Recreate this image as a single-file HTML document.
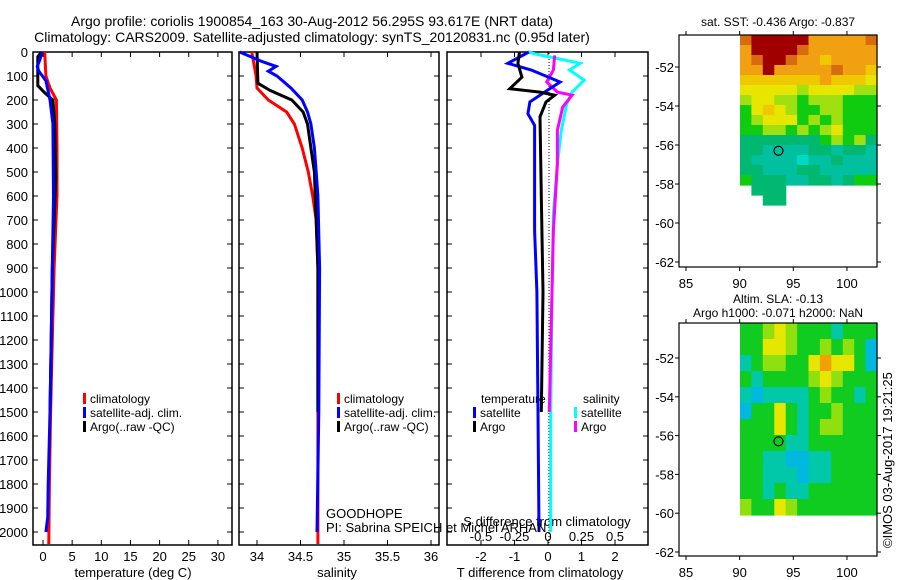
<!DOCTYPE html>
<html><head><meta charset="utf-8"><style>
body{margin:0;background:#fff}
svg{display:block;font-family:"Liberation Sans",sans-serif}
text{fill:#000}
</style></head><body>
<svg id="c" width="900" height="580" viewBox="0 0 900 580">
<text x="312" y="26" font-size="14" text-anchor="middle">Argo profile: coriolis 1900854_163 30-Aug-2012 56.295S 93.617E (NRT data)</text>
<text x="312" y="42" font-size="14" text-anchor="middle">Climatology: CARS2009. Satellite-adjusted climatology: synTS_20120831.nc (0.95d later)</text>
<g id="g"></g>
</svg>
<script>
// ---- data ----
const depthTicks=[0,100,200,300,400,500,600,700,800,900,1000,1100,1200,1300,1400,1500,1600,1700,1800,1900,2000];
const tTicks=[0,5,10,15,20,25,30];
const sTicks=[34,34.5,35,35.5,36];
const dTTicks=[-2,-1,0,1,2];
const dSTicks=[-0.5,-0.25,0,0.25,0.5];
const tClimD=[0,100,150,200,400,600,900,1200,1500,1800,2050];
const tClimV=[0.3,0.5,1.2,2.3,2.4,2.4,1.9,1.6,1.3,1.1,1.0];
const tSatD=[0,30,60,80,120,200,300,600,900,1200,1500,1800,1940,2000];
const tSatV=[-0.2,-0.5,-1.0,-0.7,0.5,1.2,1.7,1.8,1.6,1.4,1.2,0.9,0.8,0.5];
const tArgoD=[0,20,140,170,200,300,520,900,1200,1500];
const tArgoV=[-0.3,-0.9,-0.9,0.3,1.7,2.0,2.2,1.6,1.4,1.2];
const sClimD=[0,100,150,200,250,300,400,500,600,700,900,2050];
const sClimV=[33.94,33.99,34.0,34.13,34.34,34.43,34.52,34.59,34.64,34.68,34.70,34.70];
const sSatD=[0,40,60,80,100,150,200,250,300,400,500,600,900,1500,2000];
const sSatV=[33.8,34.06,34.22,34.13,34.23,34.39,34.52,34.58,34.62,34.66,34.68,34.70,34.72,34.71,34.69];
const sArgoD=[0,130,160,200,250,300,400,500,900,1500];
const sArgoV=[34.0,34.01,34.15,34.4,34.53,34.58,34.62,34.66,34.70,34.70];
const dTSatD=[0,47,75,125,167,208,257,306,743,1000,1500,2000];
const dTSatV=[-0.57,-1.2,-0.5,0.36,-0.1,-0.54,-0.6,-0.4,-0.4,-0.33,-0.3,-0.27];
const dTArgoD=[0,47,105,153,167,180,208,270,600,1000,1500];
const dTArgoV=[-0.85,-0.9,-0.78,-1.14,-0.24,0.2,-0.06,-0.24,-0.2,-0.15,-0.2];
const dSSatD=[0,10,47,75,117,167,215,326,465,673,1000,1500,2000];
const dSSatV=[-0.15,-0.08,0.24,0.16,0.27,0.18,0.14,0.1,0.07,0.04,0.03,0.02,0.02];
const dSArgoD=[14,75,125,167,180,229,326,465,743,1000,1500];
const dSArgoV=[0.05,0.04,-0.01,0.07,0.18,0.11,0.07,0.07,0.04,0.03,0.01];
const sstGrid=[
"899999777778","799998777777","789987767777","779777778776","666666676665","555554555544",
"455443444333","356543344333","345553434333","334434345333","222222234342","221111221221",
"211110112111","221112211111","322211221233","x222xxxxxxxx","xx22xxxxxxxx"];
const slaGrid=[
"334543332333","335543343431","234433565531","323333454333","212222343323","133532334333",
"333532344333","333322333333","332211223333","332221223333","332322333333","433543333333"];
const latTicks=[-52,-54,-56,-58,-60,-62];
const lonTicks=[85,90,95,100];
// ---- helpers ----
const NS='http://www.w3.org/2000/svg';
const G=document.getElementById('g');
function mk(tag,attrs,parent){const e=document.createElementNS(NS,tag);for(const k in attrs)e.setAttribute(k,attrs[k]);(parent||G).appendChild(e);return e;}
const yD=d=>52+d*0.24;
const P1={l:33,r:232,x:v=>43+v*5.83};
const P2={l:239,r:439,x:v=>257+(v-34)*87};
const P3={l:447,r:648,x:v=>548+v*33.5,xs:v=>548+v*134};
function frame(p,name){
 const r=mk('rect',{x:p.l,y:52,width:p.r-p.l,height:493,fill:'none',stroke:'#000','stroke-width':1.5});
 
 
}
function line(ds,vs,xf,color,name){
 const pts=ds.map((d,i)=>xf(vs[i]).toFixed(1)+','+yD(d).toFixed(1)).join(' ');
 const pl=mk('polyline',{points:pts,fill:'none',stroke:color,'stroke-width':3,'stroke-linejoin':'miter'});
 
 
}
function txt(x,y,s,size,anchor,name,extra){
 const t=mk('text',Object.assign({x:x,y:y,'font-size':size,'text-anchor':anchor||'start'},extra||{}));
 t.textContent=s;
 
 
 return t;
}
[P1,P2,P3].forEach((p,i)=>frame(p,'panel-frame-'+(i+1)));
depthTicks.forEach(d=>{
 const y=yD(d);
 [P1,P2,P3].forEach(p=>{mk('line',{x1:p.l,x2:p.l+5,y1:y,y2:y,stroke:'#000'});mk('line',{x1:p.r-5,x2:p.r,y1:y,y2:y,stroke:'#000'});});
 txt(28,y+5,String(d),13,'end','depth-tick-label');
});
function xticks(ticks,xf,top,bot,labY,name){
 ticks.forEach(v=>{const x=xf(v);
  mk('line',{x1:x,x2:x,y1:bot-5,y2:bot,stroke:'#000'});
  if(top)mk('line',{x1:x,x2:x,y1:52,y2:57,stroke:'#000'});
  txt(x,labY,String(v),13,'middle',name);});
}
xticks(tTicks,P1.x,true,545,561,'temperature-tick-label');
xticks(sTicks,P2.x,true,545,561,'salinity-tick-label');
xticks(dTTicks,P3.x,true,545,561,'t-diff-tick-label');
dSTicks.forEach(v=>txt(P3.xs(v),541,String(v),13,'middle','s-diff-tick-label'));
txt(133,577,'temperature (deg C)',13,'middle','x-axis-title-temperature');
txt(337,577,'salinity',13,'middle','x-axis-title-salinity');
txt(540,577,'T difference from climatology',13,'middle','x-axis-title-t-diff');
txt(547,526,'S difference from climatology',13,'middle','x-axis-title-s-diff');
const zl=mk('line',{x1:549,x2:549,y1:53,y2:544,stroke:'#000','stroke-dasharray':'1,2'});


line(tClimD,tClimV,P1.x,'#f00','temp-climatology');
line(tArgoD,tArgoV,P1.x,'#000','temp-argo');
line(tSatD,tSatV,P1.x,'#0000ff','temp-satellite-clim');
line(sClimD,sClimV,P2.x,'#f00','sal-climatology');
line(sArgoD,sArgoV,P2.x,'#000','sal-argo');
line(sSatD,sSatV,P2.x,'#0000ff','sal-satellite-clim');
line(dSSatD,dSSatV,P3.xs,'#00ffff','sdiff-satellite');
line(dSArgoD,dSArgoV,P3.xs,'#ff00ff','sdiff-argo');
line(dTSatD,dTSatV,P3.x,'#0000ff','tdiff-satellite');
line(dTArgoD,dTArgoV,P3.x,'#000','tdiff-argo');
function leg(x,y,c,s,name){mk('rect',{x:x,y:y-10,width:3,height:11,fill:c});txt(x+7,y,s,12,'start',name);}
leg(83,403,'#f00','climatology','legend-climatology');
leg(83,417,'#00f','satellite-adj. clim.','legend-satellite-clim');
leg(83,431,'#000','Argo(..raw -QC)','legend-argo');
leg(337,403,'#f00','climatology','legend2-climatology');
leg(337,417,'#00f','satellite-adj. clim.','legend2-satellite-clim');
leg(337,431,'#000','Argo(..raw -QC)','legend2-argo');
txt(481,403,'temperature',12,'start','legend-temperature-header');
leg(473,417,'#00f','satellite','legend-t-satellite');
leg(473,431,'#000','Argo','legend-t-argo');
txt(583,403,'salinity',12,'start','legend-salinity-header');
leg(574,417,'#0ff','satellite','legend-s-satellite');
leg(574,431,'#f0f','Argo','legend-s-argo');
txt(326,518,'GOODHOPE',13,'start','program-label');
txt(326,532,'PI: Sabrina SPEICH et Michel ARHAN',13,'start','pi-label');
const sstCol={'9':'#a00000','8':'#d86a10','7':'#f0a010','6':'#f0c800','5':'#e6e600','4':'#a0e010','3':'#10cc10','2':'#00b870','1':'#00c0a0','0':'#00d8c8'};
const slaCol={'1':'#00b8e0','2':'#00c8a8','3':'#10cc20','4':'#90e010','5':'#e6e600','6':'#f0a000'};
function map(top,bot,lat0,pxPerLat,grid,cols,rowH,title1,title2,name){
 const L=679,R=877,x=v=>686+(v-85)*10.73,y=v=>lat0+(v-(-52))*-pxPerLat;
 const cw=(R-740)/12;
 grid.forEach((row,ri)=>{[...row].forEach((ch,ci)=>{if(ch==='x')return;
  const r=mk('rect',{x:(740+ci*cw).toFixed(1),y:top+ri*rowH,width:(cw+0.6).toFixed(1),height:rowH+0.6,fill:cols[ch]});
  
  });});
 const f=mk('rect',{x:L,y:top,width:R-L,height:bot-top,fill:'none',stroke:'#000','stroke-width':1.2});
 
 
 latTicks.forEach(v=>{const yy=y(v);if(yy<top||yy>bot)return;
  mk('line',{x1:L-4,x2:L,y1:yy,y2:yy,stroke:'#000'});mk('line',{x1:R,x2:R+4,y1:yy,y2:yy,stroke:'#000'});
  txt(674,yy+5,String(v),13,'end',name+'-lat-label');});
 lonTicks.forEach(v=>{const xx=x(v);
  mk('line',{x1:xx,x2:xx,y1:bot,y2:bot+4,stroke:'#000'});mk('line',{x1:xx,x2:xx,y1:top-4,y2:top,stroke:'#000'});
  txt(xx,bot+21,String(v),13,'middle',name+'-lon-label');});
 const c=mk('circle',{cx:x(93.617),cy:y(-56.295),r:4.5,fill:'none',stroke:'#000','stroke-width':1.2});
 
 
 if(title1)txt(778,top-(title2?20:9),title1,12,'middle',name+'-title');
 if(title2)txt(778,top-6,title2,12,'middle',name+'-subtitle');
}
map(35,267,67,19.5,sstGrid,sstCol,10,'sat. SST: -0.436  Argo: -0.837',null,'sst-map');
map(323,556,358,19.4,slaGrid,slaCol,16,'Altim. SLA: -0.13','Argo h1000: -0.071 h2000: NaN','sla-map');
txt(0,0,'©IMOS 03-Aug-2017 19:21:25',13,'start','imos-stamp',{transform:'translate(892,548) rotate(-90)'});
</script>
</body></html>
